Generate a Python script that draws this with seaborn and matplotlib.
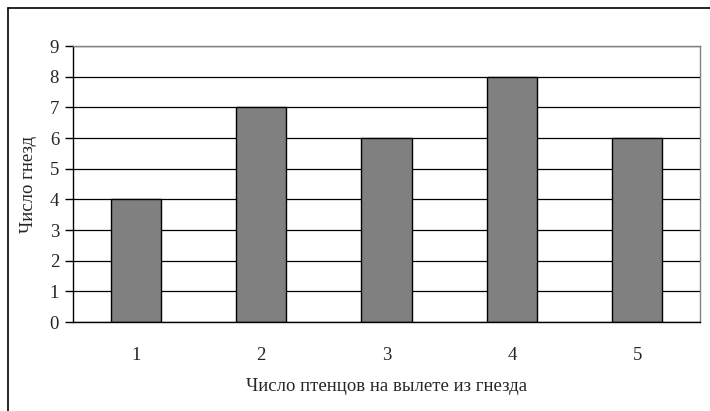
import seaborn as sns
import pandas as pd
import matplotlib.pyplot as plt
from matplotlib.lines import Line2D

# data
chicks = ["1", "2", "3", "4", "5"]
nests = [4, 7, 6, 8, 6]

sns.set_style('white')
plt.rcParams['font.family'] = ['Liberation Serif', 'DejaVu Serif']

df = pd.DataFrame({'chicks': chicks, 'nests': nests})

fig = plt.figure(figsize=(7.10, 4.11), dpi=100)
ax = fig.add_axes([73 / 710, 1 - 322 / 411, (700 - 73) / 710, (322 - 46) / 411])

ax.set_axisbelow(True)
ax.yaxis.grid(True, color='black', linewidth=0.9)
sns.barplot(data=df, x='chicks', y='nests', color='#808080', edgecolor='black',
            linewidth=1.0, width=0.4, saturation=1, ax=ax)

ax.set_ylim(0, 9)
ax.set_xlim(-0.5, 4.5)
ax.set_yticks(range(10))

# tick marks between categories, labels centred under bars
ax.set_xticks([i - 0.5 for i in range(6)], minor=True)
ax.tick_params(axis='x', which='major', length=0, pad=18, labelsize=13.5)
ax.tick_params(axis='x', which='minor', length=5, width=1, direction='out', color='black')
ax.tick_params(axis='y', length=6, width=1, direction='out', color='black', pad=4, labelsize=13.5)
ax.tick_params(left=True, bottom=True)

for side in ['left', 'bottom']:
    ax.spines[side].set_color('black')
    ax.spines[side].set_linewidth(1.0)
for side in ['top', 'right']:
    ax.spines[side].set_color('#808080')
    ax.spines[side].set_linewidth(1.0)

ax.set_xlabel('Число птенцов на вылете из гнезда', fontsize=13.5, labelpad=10)
ax.set_ylabel('Число гнезд', fontsize=13.5, labelpad=9)

# outer chart frame (cropped on right and bottom)
fig.add_artist(Line2D([8 / 710, 1], [1 - 8 / 411, 1 - 8 / 411], color='black', linewidth=1.2,
                      transform=fig.transFigure))
fig.add_artist(Line2D([8 / 710, 8 / 710], [0, 1 - 8 / 411], color='black', linewidth=1.2,
                      transform=fig.transFigure))

fig.savefig('out.png', dpi=100)
